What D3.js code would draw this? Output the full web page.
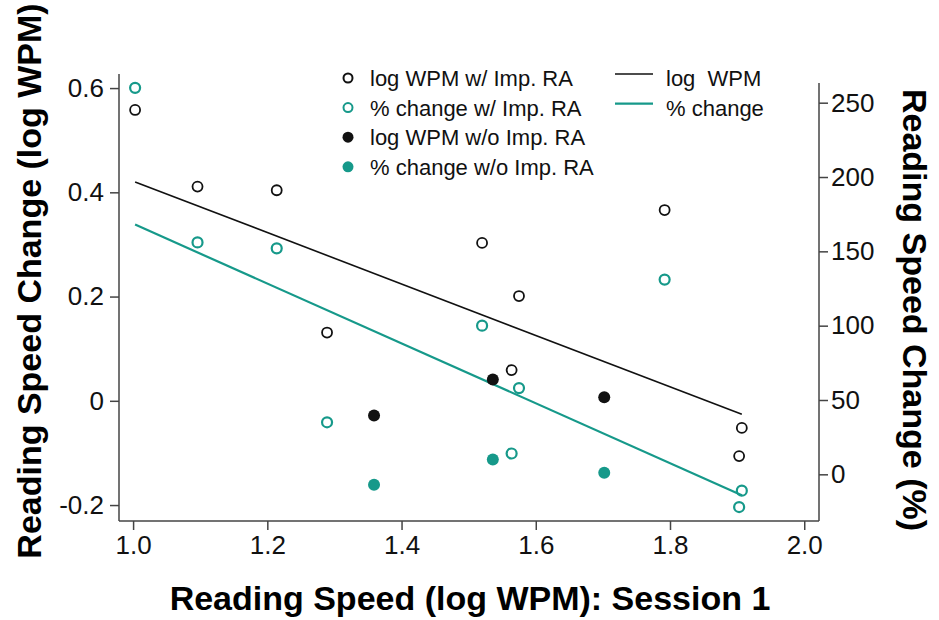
<!DOCTYPE html>
<html>
<head>
<meta charset="utf-8">
<script src="https://cdn.jsdelivr.net/npm/d3@7"></script>
<style>
  body { margin: 0; background: #fff; }
  svg { display: block; font-family: "Liberation Sans", Arial, Helvetica, sans-serif; }
</style>
</head>
<body>
<svg id="chart" width="939" height="620"></svg>
<script>
// Reading speed change vs session 1 reading speed

// Participants with improved RA
const sessionWith = [1.003, 1.096, 1.214, 1.289, 1.520, 1.575, 1.564, 1.792, 1.907, 1.903];
const logWith = [0.558, 0.411, 0.404, 0.131, 0.303, 0.201, 0.059, 0.366, -0.052, -0.106];
const pctWith = [260, 156, 152, 35, 100, 58, 14, 131, -11, -22];

// Participants without improved RA
const sessionWithout = [1.359, 1.536, 1.702];
const logWithout = [-0.028, 0.041, 0.007];
const pctWithout = [-7, 10, 1];

// Fitted lines (ends)
const fitX = [1.003, 1.907];
const fitLog = [0.420, -0.026];
const fitPct = [168, -14];

// Tick values
const xTicks = [1.0, 1.2, 1.4, 1.6, 1.8, 2.0];
const leftTicks = [0.6, 0.4, 0.2, 0, -0.2];
const leftTickLabels = ["0.6", "0.4", "0.2", "0", "-0.2"];
const rightTicks = [250, 200, 150, 100, 50, 0];

const legendPoints = ["log WPM w/ Imp. RA", "% change w/ Imp. RA", "log WPM w/o Imp. RA", "% change w/o Imp. RA"];
const legendLines = ["log  WPM", "% change"];

const teal = "#16998a";
const ink = "#111";
const axisColor = "#444";

const plot = { left: 119, right: 819, top: 74, bottom: 521, rightTop: 83 };
const svg = d3.select("#chart");

// Scales
const x = d3.scaleLinear().domain([0.979, 2.022]).range([plot.left, plot.right]);
const yLeft = d3.scaleLinear().domain([-0.2306, 0.627]).range([plot.bottom, plot.top]);
const yRight = d3.scaleLinear().domain([-31.4, 269.3]).range([plot.bottom, plot.top]);

function styleAxis(g, fontSize) {
  g.select(".domain").remove();
  g.selectAll(".tick line").attr("stroke", axisColor).attr("stroke-width", 1.5);
  g.selectAll(".tick text").attr("fill", "#111").style("font-size", fontSize + "px");
}

// Axes
svg.append("g")
  .attr("transform", `translate(0,${plot.bottom})`)
  .call(d3.axisBottom(x).tickValues(xTicks).tickFormat(d3.format(".1f")).tickSize(9).tickPadding(6))
  .call(g => styleAxis(g, 26));

svg.append("g")
  .attr("transform", `translate(${plot.left},0)`)
  .call(d3.axisLeft(yLeft).tickValues(leftTicks).tickFormat((d, i) => leftTickLabels[i]).tickSize(9).tickPadding(6))
  .call(g => styleAxis(g, 26));

svg.append("g")
  .attr("transform", `translate(${plot.right},0)`)
  .call(d3.axisRight(yRight).tickValues(rightTicks).tickSize(9).tickPadding(3))
  .call(g => styleAxis(g, 26));

// Axis lines
svg.append("line").attr("x1", plot.left).attr("x2", plot.left).attr("y1", plot.top).attr("y2", plot.bottom)
  .attr("stroke", axisColor).attr("stroke-width", 1.5);
svg.append("line").attr("x1", plot.right).attr("x2", plot.right).attr("y1", plot.rightTop).attr("y2", plot.bottom)
  .attr("stroke", axisColor).attr("stroke-width", 1.5);
svg.append("line").attr("x1", plot.left).attr("x2", plot.right).attr("y1", plot.bottom).attr("y2", plot.bottom)
  .attr("stroke", axisColor).attr("stroke-width", 1.5);

// Fitted lines
const fitData = fitX.map((d, i) => ({ x: d, log: fitLog[i], pct: fitPct[i] }));
svg.append("path")
  .datum(fitData)
  .attr("fill", "none").attr("stroke", ink).attr("stroke-width", 1.6)
  .attr("d", d3.line().x(d => x(d.x)).y(d => yLeft(d.log)));
svg.append("path")
  .datum(fitData)
  .attr("fill", "none").attr("stroke", teal).attr("stroke-width", 2.2)
  .attr("d", d3.line().x(d => x(d.x)).y(d => yRight(d.pct)));

// Points
const withData = sessionWith.map((d, i) => ({ x: d, log: logWith[i], pct: pctWith[i] }));
const withoutData = sessionWithout.map((d, i) => ({ x: d, log: logWithout[i], pct: pctWithout[i] }));

svg.append("g").selectAll("circle")
  .data(withData).enter().append("circle")
  .attr("cx", d => x(d.x)).attr("cy", d => yLeft(d.log)).attr("r", 5)
  .attr("fill", "none").attr("stroke", ink).attr("stroke-width", 1.8);

svg.append("g").selectAll("circle")
  .data(withData).enter().append("circle")
  .attr("cx", d => x(d.x)).attr("cy", d => yRight(d.pct)).attr("r", 5)
  .attr("fill", "none").attr("stroke", teal).attr("stroke-width", 2.2);

svg.append("g").selectAll("circle")
  .data(withoutData).enter().append("circle")
  .attr("cx", d => x(d.x)).attr("cy", d => yLeft(d.log)).attr("r", 6)
  .attr("fill", ink);

svg.append("g").selectAll("circle")
  .data(withoutData).enter().append("circle")
  .attr("cx", d => x(d.x)).attr("cy", d => yRight(d.pct)).attr("r", 6)
  .attr("fill", teal);

// Legend
const legend = svg.append("g").attr("transform", "translate(348,78)");
const rowGap = 29.6;
legendPoints.forEach((label, i) => {
  const c = legend.append("circle").attr("cx", 0).attr("cy", i * rowGap);
  if (i < 2) {
    c.attr("r", 4.5).attr("fill", "none").attr("stroke", i === 0 ? ink : teal).attr("stroke-width", 2);
  } else {
    c.attr("r", 5.5).attr("fill", i === 2 ? ink : teal);
  }
  legend.append("text")
    .attr("x", 22).attr("y", i * rowGap + 8)
    .style("font-size", "22px").attr("fill", "#111")
    .text(label);
});
legendLines.forEach((label, i) => {
  legend.append("line")
    .attr("x1", 267).attr("x2", 305).attr("y1", i * rowGap - 4).attr("y2", i * rowGap - 4)
    .attr("stroke", i === 0 ? ink : teal).attr("stroke-width", i === 0 ? 1.6 : 2.2);
  legend.append("text")
    .attr("x", 318).attr("y", i * rowGap + 8)
    .style("font-size", "22px").attr("fill", "#111")
    .attr("xml:space", "preserve")
    .text(label);
});

// Axis titles
svg.append("text")
  .attr("x", 470).attr("y", 610)
  .attr("text-anchor", "middle")
  .style("font-size", "34px").style("font-weight", "bold")
  .text("Reading Speed (log WPM): Session 1");

svg.append("text")
  .attr("transform", "translate(41,281) rotate(-90)")
  .attr("text-anchor", "middle")
  .style("font-size", "34px").style("font-weight", "bold")
  .text("Reading Speed Change (log WPM)");

svg.append("text")
  .attr("transform", "translate(903,310) rotate(90)")
  .attr("text-anchor", "middle")
  .style("font-size", "34px").style("font-weight", "bold")
  .text("Reading Speed Change (%)");
</script>
</body>
</html>
